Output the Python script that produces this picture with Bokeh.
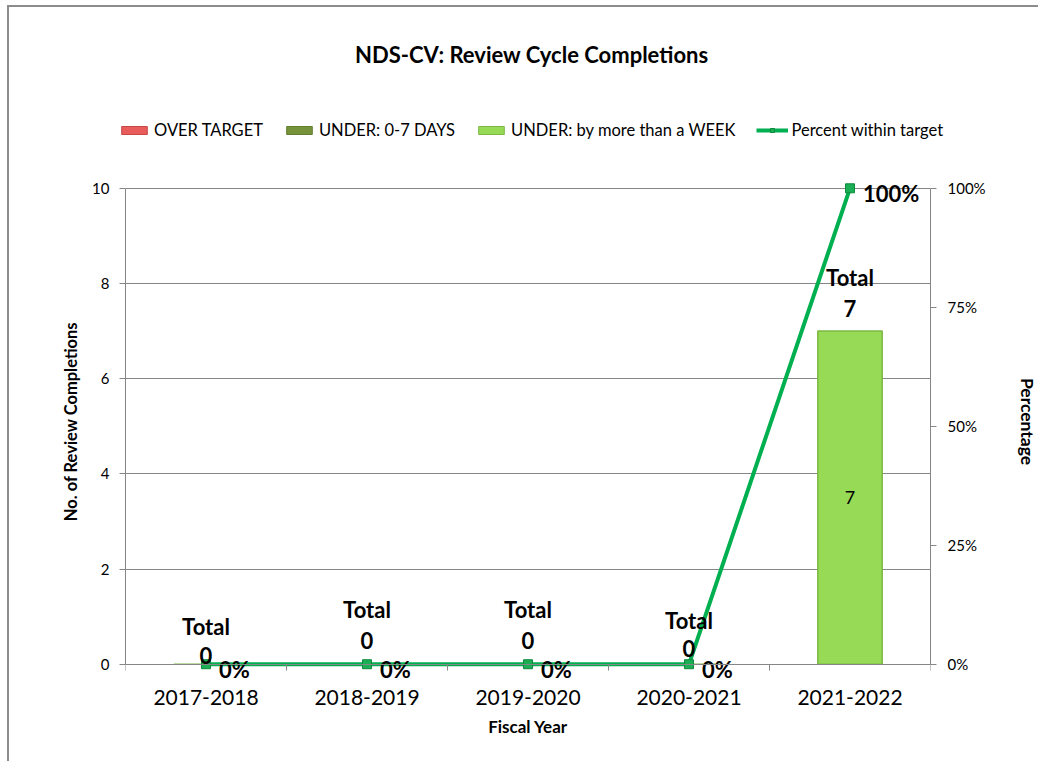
from bokeh.plotting import figure
from bokeh.models import (Range1d, LinearAxis, FixedTicker, NumeralTickFormatter,
                          Legend, LegendItem, ColumnDataSource, Label)
from bokeh.core.properties import value
from bokeh.embed import file_html
from bokeh.resources import INLINE

# ---- data ----
title_text = "NDS-CV:  Review Cycle Completions"
years = ["2017-2018", "2018-2019", "2019-2020", "2020-2021", "2021-2022"]
series_names = ["OVER TARGET", "UNDER: 0-7 DAYS", "UNDER: by more than a WEEK"]
line_name = "Percent within target"
over_target = [0, 0, 0, 0, 0]
under_0_7 = [0, 0, 0, 0, 0]
under_week = [0, 0, 0, 0, 7]
totals = [0, 0, 0, 0, 7]
pct_within = [0.0, 0.0, 0.0, 0.0, 1.0]
left_ticks = [0, 2, 4, 6, 8, 10]
right_ticks = [0.0, 0.25, 0.5, 0.75, 1.0]

# ---- styles ----
FONT = "Lato"
GRAY = "#868686"
BAR_FILL = ["#E85C5C", "#76933C", "#97DA55"]
BAR_LINE = ["#C94646", "#637D31", "#7DB843"]
LINE_COLOR = "#00B050"
MK_FILL = "#1AAF54"
MK_LINE = "#0E8A3E"
total_dy = [-38, -55, -55, -44, -54]
num_dy = [-9, -24, -24, -16, -23]
HEAD = 0.05   # extra room above the axes (fraction of the axis span)
FOOT = 0.03   # extra room below the axes

W = 1031
TOP_H = 150
MAIN_H = 606

xc = [i + 0.5 for i in range(len(years))]
src = ColumnDataSource(dict(x=xc, over=over_target, u07=under_0_7, uw=under_week,
                            tot=totals, pct=pct_within,
                            totlab=["Total"] * len(years),
                            numlab=[str(t) for t in totals],
                            barlab=[str(v) if v else "" for v in under_week],
                            barmid=[v / 2 for v in under_week],
                            pctlab=["{:.0%}".format(v) for v in pct_within],
                            tdy=total_dy, ndy=num_dy))

# ---------- header figure: title + legend ----------
top = figure(width=W, height=TOP_H, output_backend="svg", toolbar_location=None,
             x_axis_location=None, y_axis_location=None,
             x_range=Range1d(100, 101), y_range=Range1d(100, 101),
             min_border=0, min_border_left=0, min_border_right=0,
             min_border_top=0, min_border_bottom=0)
top.grid.visible = False
top.outline_line_color = None
top.styles = {"border-left": "2px solid #8c8c8c", "border-top": "2px solid #8c8c8c",
              "margin-left": "7px", "margin-top": "5px"}
top.add_layout(Label(x=525, y=103, x_units="screen", y_units="screen",
                     text=title_text, text_align="center", text_baseline="middle",
                     text_font=FONT, text_font_size="22px", text_font_style="bold",
                     text_color="black"))
# legend keys (same data, drawn outside the header's visible range)
hbars = top.vbar_stack(["over", "u07", "uw"], x="x", width=0.4, source=src,
                       fill_color=BAR_FILL, line_color=BAR_LINE, line_width=1)
hl = top.line("x", "pct", source=src, line_color=LINE_COLOR, line_width=4)
hm = top.scatter("x", "pct", source=src, marker="square", size=9,
                 fill_color=MK_FILL, line_color=MK_LINE)
items = [LegendItem(label=n, renderers=[r]) for n, r in zip(series_names, hbars)]
items.append(LegendItem(label=line_name, renderers=[hl, hm]))
legend = Legend(items=items, orientation="horizontal", location=(109, 17),
                glyph_width=32, glyph_height=10, label_standoff=4, spacing=20,
                padding=0, margin=0, border_line_color=None, background_fill_alpha=0,
                label_text_font=FONT, label_text_font_size="16.5px",
                label_text_color="black")
top.add_layout(legend, "center")

# ---------- main chart ----------
ymax = max(left_ticks)
pmax = max(right_ticks)
p = figure(width=W, height=MAIN_H, output_backend="svg", toolbar_location=None,
           x_range=Range1d(0, len(years)),
           y_range=Range1d(-FOOT * ymax, ymax * (1 + HEAD)),
           min_border_left=116, min_border_right=110, min_border_top=9,
           min_border_bottom=83)
p.outline_line_color = None
p.styles = {"border-left": "2px solid #8c8c8c", "margin-left": "7px"}
p.extra_y_ranges = {"pct": Range1d(-FOOT * pmax, pmax * (1 + HEAD))}

# category labels (bottom)
xa = p.xaxis[0]
xa.ticker = FixedTicker(ticks=xc)
xa.major_label_overrides = {x: y for x, y in zip(xc, years)}
xa.axis_line_color = None
xa.major_tick_line_color = None
xa.minor_tick_line_color = None
xa.major_label_text_font = FONT
xa.major_label_text_font_size = "21px"
xa.major_label_text_color = "black"
xa.major_label_standoff = 5
xa.axis_label = "Fiscal Year"
xa.axis_label_text_font = FONT
xa.axis_label_text_font_style = "bold"
xa.axis_label_text_font_size = "17px"
xa.axis_label_text_color = "black"
xa.axis_label_standoff = 8
p.xgrid.visible = False

# category axis line with boundary ticks, drawn at y = 0
base = LinearAxis(fixed_location=0,
                  ticker=FixedTicker(ticks=[], minor_ticks=list(range(len(years) + 1))))
base.axis_line_color = GRAY
base.major_tick_line_color = None
base.minor_tick_line_color = GRAY
base.minor_tick_in = 6
base.minor_tick_out = 0
base.major_label_text_font_size = "0px"
base.major_label_standoff = 0
p.add_layout(base, "above")

# left y axis
ya = p.yaxis[0]
ya.ticker = FixedTicker(ticks=left_ticks)
ya.bounds = (0, ymax)
ya.minor_tick_line_color = None
ya.major_tick_out = 6
ya.major_tick_in = 0
ya.major_tick_line_color = GRAY
ya.axis_line_color = GRAY
ya.major_label_text_font = FONT
ya.major_label_text_font_size = "15px"
ya.major_label_text_color = "black"
ya.major_label_standoff = 10
ya.axis_label = "No. of Review Completions"
ya.axis_label_text_font = FONT
ya.axis_label_text_font_style = "bold"
ya.axis_label_text_font_size = "16.5px"
ya.axis_label_text_color = "black"
ya.axis_label_standoff = 8
p.ygrid.grid_line_color = GRAY
p.ygrid.grid_line_width = 1
p.ygrid.ticker = FixedTicker(ticks=left_ticks)

# right axis
ra = LinearAxis(y_range_name="pct", ticker=FixedTicker(ticks=right_ticks),
                formatter=NumeralTickFormatter(format="0%"), bounds=(0, pmax))
ra.minor_tick_line_color = None
ra.major_tick_out = 6
ra.major_tick_in = 0
ra.major_tick_line_color = GRAY
ra.axis_line_color = GRAY
ra.major_label_text_font = FONT
ra.major_label_text_font_size = "15px"
ra.major_label_text_color = "black"
ra.major_label_standoff = 11
ra.axis_label = "Percentage"
ra.axis_label_text_font = FONT
ra.axis_label_text_font_style = "bold"
ra.axis_label_text_font_size = "17.5px"
ra.axis_label_text_color = "black"
ra.axis_label_standoff = 28
p.add_layout(ra, "right")

# bars
bars = p.vbar_stack(["over", "u07", "uw"], x="x", width=0.4, source=src,
                    fill_color=BAR_FILL,
                    line_color=[None, None, BAR_LINE[2]], line_width=1.5)

# line + markers
ln = p.line("x", "pct", source=src, y_range_name="pct", line_color=LINE_COLOR, line_width=4)
mk = p.scatter("x", "pct", source=src, y_range_name="pct", marker="square", size=9,
               fill_color=MK_FILL, line_color=MK_LINE)

# labels
p.text("x", "barmid", text="barlab", source=src, text_align="center",
       text_baseline="middle", text_font=value(FONT), text_font_size="18px", text_color="black")
p.text("x", "tot", text="totlab", source=src, y_offset="tdy", text_align="center",
       text_baseline="middle", text_font=value(FONT), text_font_size="22px",
       text_font_style="bold", text_color="black")
p.text("x", "tot", text="numlab", source=src, y_offset="ndy", text_align="center",
       text_baseline="middle", text_font=value(FONT), text_font_size="22px",
       text_font_style="bold", text_color="black")
p.text("x", "pct", text="pctlab", source=src, y_range_name="pct", x_offset=13, y_offset=5,
       text_align="left", text_baseline="middle", text_font=value(FONT),
       text_font_size="22px", text_font_style="bold", text_color="black")

open("out.html", "w").write(file_html([top, p], INLINE))
